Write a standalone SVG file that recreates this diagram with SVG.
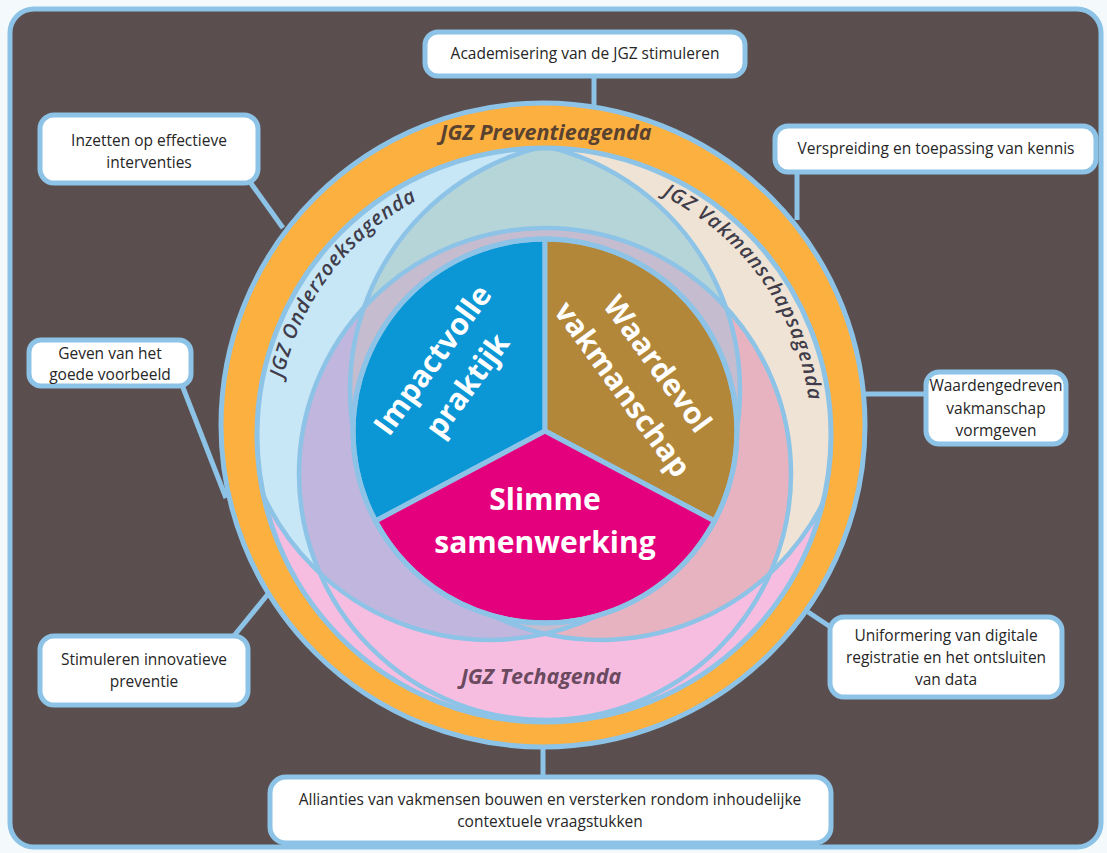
<svg xmlns="http://www.w3.org/2000/svg" width="1107" height="853" viewBox="0 0 1107 853">
<defs>
<style>
.ln{stroke:#8cc3e6;stroke-width:5;fill:none}
.bx{fill:#ffffff;stroke:#8cc3e6;stroke-width:5}
.bt{font-family:"Open Sans","Liberation Sans",sans-serif;font-size:15.5px;fill:#262626;text-anchor:middle}
.pt{font-family:"Open Sans","Liberation Sans",sans-serif;font-size:30px;font-weight:700;fill:#ffffff;text-anchor:middle}
.ag{font-family:"Open Sans","Liberation Sans",sans-serif;font-style:italic;font-weight:700;font-size:21.5px;text-anchor:middle}
.ca{font-family:"Open Sans","Liberation Sans",sans-serif;font-style:italic;font-weight:600;font-size:20px;fill:#403c4a;letter-spacing:1px}
.cs{fill:none;stroke:#8cc3e6;stroke-width:4.5}
</style>
<clipPath id="clipInner"><circle cx="544" cy="435" r="287"/></clipPath>
<clipPath id="clipO"><circle cx="490" cy="390" r="250"/></clipPath>
<clipPath id="clipV"><circle cx="600" cy="390" r="250"/></clipPath>
<path id="arcO" d="M279.6,472.2 A267,267 0 0 1 506.8,170.6"/>
<path id="arcV" d="M588.1,171.7 A267,267 0 0 1 807.3,479.1"/>
</defs>

<rect x="0" y="0" width="1107" height="853" fill="#f4f9fc"/>
<rect id="frame" x="10" y="9" width="1091" height="838" rx="24" fill="#5b4e4f" stroke="#8cc3e6" stroke-width="5"/>

<g id="connectors">
<line class="ln" x1="594" y1="76" x2="594" y2="106"/>
<line class="ln" x1="250" y1="182" x2="283" y2="228"/>
<line class="ln" x1="797" y1="172" x2="797" y2="220"/>
<line class="ln" x1="182" y1="385" x2="226" y2="498"/>
<line class="ln" x1="864" y1="394" x2="926" y2="394"/>
<line class="ln" x1="233" y1="637" x2="268" y2="594"/>
<line class="ln" x1="808" y1="612" x2="832" y2="628"/>
<line class="ln" x1="543" y1="745" x2="543" y2="778"/>
</g>

<g id="preventieagenda">
<circle cx="543" cy="425" r="322" fill="#fbb040" stroke="#8cc3e6" stroke-width="5"/>
<text class="ag" x="546" y="140" fill="#5a4231">JGZ Preventieagenda</text>
</g>

<g id="venn">
<g clip-path="url(#clipInner)">
<circle cx="544" cy="435" r="290" fill="#f7bde0"/>
<circle cx="490" cy="390" r="250" fill="#c7e6f6"/>
<circle cx="600" cy="390" r="250" fill="#eee3d4"/>
<circle cx="545" cy="474" r="246" fill="#f7bde0"/>
<g clip-path="url(#clipO)"><circle cx="600" cy="390" r="250" fill="#b6d5d9"/></g>
<g clip-path="url(#clipO)"><circle cx="545" cy="474" r="246" fill="#c1b6dd"/></g>
<g clip-path="url(#clipV)"><circle cx="545" cy="474" r="246" fill="#e8b3c0"/></g>
<g clip-path="url(#clipO)"><g clip-path="url(#clipV)"><circle cx="545" cy="474" r="246" fill="#c6bccf"/></g></g>
<circle class="cs" cx="490" cy="390" r="250"/>
<circle class="cs" cx="600" cy="390" r="250"/>
<circle class="cs" cx="545" cy="474" r="246"/>
</g>
<circle cx="544" cy="435" r="287" fill="none" stroke="#8cc3e6" stroke-width="5"/>
</g>

<g id="onderzoeksagenda">
<text class="ca"><textPath href="#arcO" startOffset="50%" text-anchor="middle">JGZ Onderzoeksagenda</textPath></text>
</g>
<g id="vakmanschapsagenda">
<text class="ca"><textPath href="#arcV" startOffset="50%" text-anchor="middle">JGZ Vakmanschapsagenda</textPath></text>
</g>
<g id="techagenda">
<text class="ag" x="541" y="684" fill="#6b4a60">JGZ Techagenda</text>
</g>

<g id="pie">
<g id="impactvolle-praktijk">
<path d="M545,431 L545,239 A192,192 0 0 0 375.5,521 Z" fill="#0b96d6" stroke="#8cc3e6" stroke-width="5" stroke-linejoin="round"/>
<g transform="translate(449,372) rotate(-54)">
<text class="pt" x="0" y="-10">Impactvolle</text>
<text class="pt" x="0" y="33">praktijk</text>
</g>
</g>
<g id="waardevol-vakmanschap">
<path d="M545,431 L545,239 A192,192 0 0 1 714.5,521 Z" fill="#b3873a" stroke="#8cc3e6" stroke-width="5" stroke-linejoin="round"/>
<g transform="translate(641,376) rotate(54)">
<text class="pt" x="0" y="-10">Waardevol</text>
<text class="pt" x="0" y="33">vakmanschap</text>
</g>
</g>
<g id="slimme-samenwerking">
<path d="M545,431 L375.5,521 A192,192 0 0 0 714.5,521 Z" fill="#e4007c" stroke="#8cc3e6" stroke-width="5" stroke-linejoin="round"/>
<text class="pt" x="545" y="510">Slimme</text>
<text class="pt" x="545" y="553">samenwerking</text>
</g>
<circle cx="545" cy="431" r="192" fill="none" stroke="#8cc3e6" stroke-width="5"/>
</g>

<g id="box-academisering">
<rect class="bx" x="425" y="32" width="320" height="44" rx="13"/>
<text class="bt" x="585" y="59">Academisering van de JGZ stimuleren</text>
</g>
<g id="box-inzetten">
<rect class="bx" x="40" y="115" width="218" height="68" rx="14"/>
<text class="bt" x="149" y="146">Inzetten op effectieve</text>
<text class="bt" x="149" y="168">interventies</text>
</g>
<g id="box-verspreiding">
<rect class="bx" x="775" y="126" width="321" height="46" rx="13"/>
<text class="bt" x="936" y="154">Verspreiding en toepassing van kennis</text>
</g>
<g id="box-geven">
<rect class="bx" x="29" y="340" width="162" height="46" rx="12"/>
<text class="bt" x="110" y="359">Geven van het</text>
<text class="bt" x="110" y="380">goede voorbeeld</text>
</g>
<g id="box-waardengedreven">
<rect class="bx" x="926" y="372" width="140" height="72" rx="13"/>
<text class="bt" x="996" y="391">Waardengedreven</text>
<text class="bt" x="996" y="414">vakmanschap</text>
<text class="bt" x="996" y="436">vormgeven</text>
</g>
<g id="box-stimuleren">
<rect class="bx" x="40" y="636" width="208" height="69" rx="14"/>
<text class="bt" x="144" y="665">Stimuleren innovatieve</text>
<text class="bt" x="144" y="687">preventie</text>
</g>
<g id="box-uniformering">
<rect class="bx" x="830" y="617" width="232" height="80" rx="14"/>
<text class="bt" x="946" y="641">Uniformering van digitale</text>
<text class="bt" x="946" y="663">registratie en het ontsluiten</text>
<text class="bt" x="946" y="685">van data</text>
</g>
<g id="box-allianties">
<rect class="bx" x="270" y="777" width="561" height="66" rx="16"/>
<text class="bt" x="550" y="805">Allianties van vakmensen bouwen en versterken rondom inhoudelijke</text>
<text class="bt" x="550" y="827">contextuele vraagstukken</text>
</g>
</svg>
